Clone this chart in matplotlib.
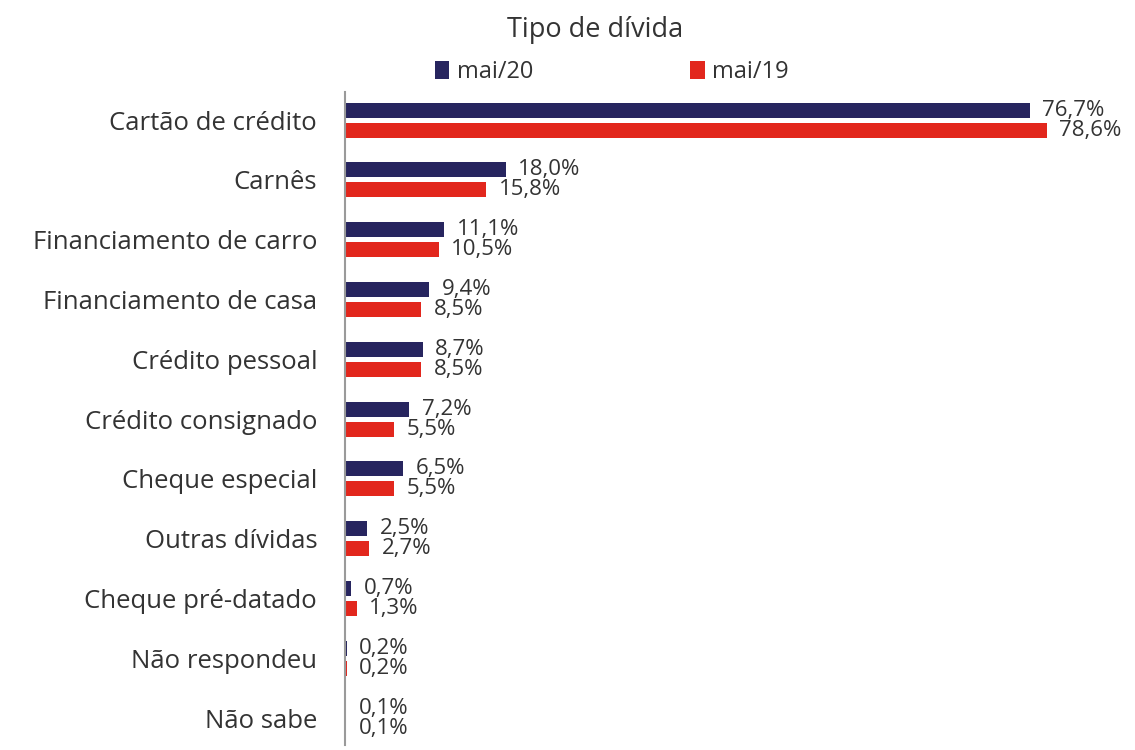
import matplotlib
matplotlib.use("Agg")
import matplotlib.pyplot as plt
import numpy as np

categories = ["Cartão de crédito", "Carnês", "Financiamento de carro",
              "Financiamento de casa", "Crédito pessoal", "Crédito consignado",
              "Cheque especial", "Outras dívidas", "Cheque pré-datado",
              "Não respondeu", "Não sabe"]
mai20 = [76.7, 18.0, 11.1, 9.4, 8.7, 7.2, 6.5, 2.5, 0.7, 0.2, 0.1]
mai19 = [78.6, 15.8, 10.5, 8.5, 8.5, 5.5, 5.5, 2.7, 1.3, 0.2, 0.1]
series_labels = ["mai/20", "mai/19"]
title = "Tipo de dívida"

NAVY = "#27255f"
RED = "#e2271d"
TXT = "#333333"

plt.rcParams['font.family'] = ['Open Sans', 'DejaVu Sans']

W, H = 1135, 750
fig = plt.figure(figsize=(W / 100, H / 100), dpi=100)
ax = fig.add_axes([345 / W, 1 - 745 / H, (W - 345) / W, (745 - 92) / H])

y = np.arange(len(categories))
off = 0.167
bh = 0.25
b1 = ax.barh(y - off, mai20, height=bh, color=NAVY, label=series_labels[0])
b2 = ax.barh(y + off, mai19, height=bh, color=RED, label=series_labels[1])

fmt = lambda v: f"{v:.1f}%".replace(".", ",")
for bars, vals in ((b1, mai20), (b2, mai19)):
    for rect, v in zip(bars, vals):
        ax.annotate(fmt(v), (rect.get_width(), rect.get_y() + rect.get_height() / 2),
                    xytext=(9, 0), textcoords="offset points",
                    ha="left", va="center", fontsize=16, color=TXT)

ax.set_xlim(0, 88.5)
ax.set_ylim(10.45, -0.47)
ax.set_yticks(y)
ax.set_yticklabels(categories, fontsize=18.5, color=TXT)
ax.tick_params(axis="y", length=0, pad=20)
ax.set_xticks([])
for s in ("top", "right", "bottom"):
    ax.spines[s].set_visible(False)
ax.spines["left"].set_color("#9a9a9a")
ax.spines["left"].set_linewidth(1.5)

fig.text(595 / W, 1 - 30 / H, title, ha="center", va="center", fontsize=19.5, color=TXT)
fig.legend(handles=[b1, b2], labels=series_labels, loc="center",
           bbox_to_anchor=(612 / W, 1 - 72 / H), ncol=2, frameon=False,
           fontsize=17, handlelength=0.6, handleheight=0.8, handletextpad=0.33,
           columnspacing=6.65, labelcolor=TXT)

fig.savefig("out.png", dpi=100)
